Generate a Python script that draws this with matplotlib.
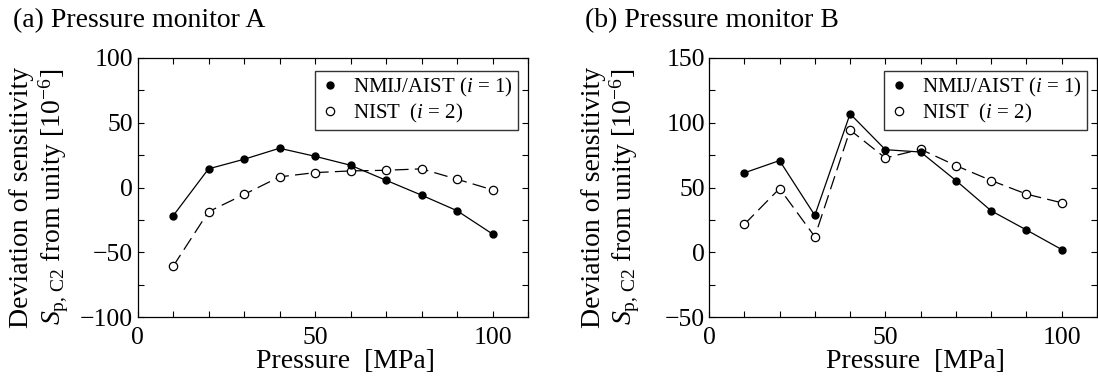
import matplotlib
matplotlib.use("Agg")
import matplotlib.pyplot as plt
from matplotlib.lines import Line2D
from matplotlib.ticker import MultipleLocator

plt.rcParams['font.family'] = ['Liberation Serif', 'DejaVu Serif']
plt.rcParams['mathtext.fontset'] = 'custom'
plt.rcParams['mathtext.rm'] = 'Liberation Serif'
plt.rcParams['mathtext.it'] = 'Liberation Serif:italic'
plt.rcParams['mathtext.bf'] = 'Liberation Serif:bold'

pressure = [10, 20, 30, 40, 50, 60, 70, 80, 90, 100]

a_nmij = [-22, 14.4, 21.8, 30.3, 24.1, 17.2, 5.6, -5.9, -17.9, -35.9]
a_nist = [-61, -18.7, -5.4, 8.2, 11.5, 12.8, 13.3, 14.4, 6.4, -1.8]

b_nmij = [61.3, 70.8, 28.5, 106.9, 79.2, 77.4, 55.4, 32.0, 17.2, 2.1]
b_nist = [21.5, 49.2, 12.0, 94.4, 72.8, 79.5, 66.9, 55.4, 44.9, 38.2]

label_nmij = "NMIJ/AIST ($i$ = 1)"
label_nist = "NIST  ($i$ = 2)"
titles = ["(a) Pressure monitor A", "(b) Pressure monitor B"]
ylims = [(-100, 100), (-50, 150)]

W, H = 1098, 381
fig = plt.figure(figsize=(W / 100, H / 100), dpi=100)

axes_px = [(137.5, 58, 390.5, 259), (709, 58, 388, 259)]
title_px = [(13, 21), (585, 21)]
data = [(a_nmij, a_nist), (b_nmij, b_nist)]

for k in range(2):
    x0, y0, w, h = axes_px[k]
    ax = fig.add_axes([x0 / W, 1 - (y0 + h) / H, w / W, h / H])
    nmij, nist = data[k]
    ax.plot(pressure, nmij, '-', color='black', lw=0.9, marker='o', ms=5,
            mfc='black', mec='black', zorder=3)
    ax.plot(pressure, nist, color='black', lw=0.9, dashes=(11, 5), marker='o', ms=6,
            mfc='white', mec='black', mew=0.9, zorder=2)
    ax.set_xlim(0, 110)
    ax.set_ylim(*ylims[k])
    ax.xaxis.set_major_locator(MultipleLocator(50))
    ax.xaxis.set_minor_locator(MultipleLocator(10))
    ax.yaxis.set_major_locator(MultipleLocator(50))
    ax.yaxis.set_minor_locator(MultipleLocator(25))
    ax.tick_params(which='both', direction='in', top=True, right=True,
                   length=4, width=0.8, labelsize=18.5)
    ax.tick_params(axis='x', which='both', pad=7)
    ax.tick_params(axis='y', which='both', pad=3)
    for s in ax.spines.values():
        s.set_linewidth(0.9)
    ax.set_xlabel("Pressure  [MPa]", fontsize=20, va='top')
    ax.xaxis.set_label_coords(0.533, -(349 - (y0 + h)) / h)
    ax.set_ylabel("Deviation of sensitivity\n$S_{\\mathrm{p,\\,C2}}$ from unity [10$^{-6}$]",
                  fontsize=20, linespacing=1.1)
    ax.yaxis.set_label_coords(-66.5 / w, 0.463)
    handles = [Line2D([], [], ls='none', marker='o', ms=5, mfc='black', mec='black'),
               Line2D([], [], ls='none', marker='o', ms=6, mfc='white', mec='black', mew=0.9)]
    leg = ax.legend(handles, [label_nmij, label_nist], loc='upper right',
                    bbox_to_anchor=(1 - 10 / w, 1 - 13 / h), borderaxespad=0,
                    fontsize=15, frameon=True, fancybox=False, edgecolor='black',
                    handlelength=1.0, handletextpad=0.6, borderpad=0.25,
                    labelspacing=0.12)
    leg.get_frame().set_linewidth(1.0)
    fig.text(title_px[k][0] / W, 1 - title_px[k][1] / H, titles[k], fontsize=20,
             ha='left', va='center')

fig.savefig("out.png", dpi=100)
